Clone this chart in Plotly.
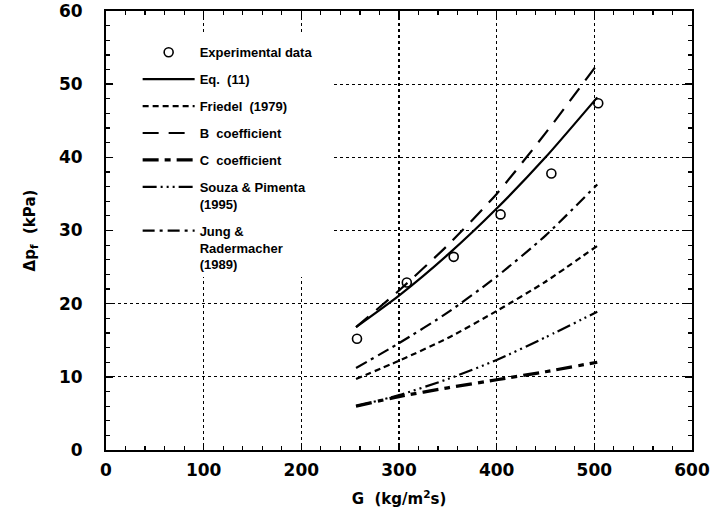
import plotly.graph_objects as go

# ---- data ----
G_exp = [257, 308, 356, 404, 456, 504]
dp_exp = [15.2, 22.9, 26.4, 32.2, 37.8, 47.4]

G_model = [256, 300, 350, 400, 450, 503]
eq11 = [16.8, 21.1, 26.7, 33.0, 40.0, 48.2]
friedel = [9.7, 12.2, 15.3, 19.0, 23.0, 27.9]
b_coef = [16.8, 21.8, 28.0, 35.0, 43.3, 52.7]
c_coef = [6.0, 7.3, 8.5, 9.6, 10.7, 12.0]
souza = [6.0, 7.5, 9.7, 12.3, 15.4, 18.9]
jung = [11.2, 14.6, 18.8, 23.7, 29.3, 36.3]

x_ticks = [0, 100, 200, 300, 400, 500, 600]
y_ticks = [0, 10, 20, 30, 40, 50, 60]

names = ["Experimental data", "Eq.  (11)", "Friedel  (1979)", "B  coefficient",
         "C  coefficient", "Souza & Pimenta<br>(1995)", "Jung &<br>Radermacher<br>(1989)"]

fig = go.Figure()

fig.add_trace(go.Scatter(
    x=G_exp, y=dp_exp, mode="markers", name=names[0], legendgroup="g0",
    marker=dict(symbol="circle-open", size=9, color="black", line=dict(width=1.6, color="black")),
))

series = [
    (eq11, names[1], "solid", 2.2),
    (friedel, names[2], "6px,4px", 2.2),
    (b_coef, names[3], "16px,10px", 2.2),
    (c_coef, names[4], "16px,6px,6px,6px", 3.2),
    (souza, names[5], "14px,4px,2px,4px,2px,4px,2px,4px", 2.2),
    (jung, names[6], "12px,5px,3px,5px", 2.2),
]
for i, (vals, nm, dash, w) in enumerate(series):
    fig.add_trace(go.Scatter(
        x=G_model, y=vals, mode="lines", name=nm, legendgroup=f"g{i+1}",
        line=dict(color="black", width=w, dash=dash, shape="spline", smoothing=0.6),
    ))

# white area behind the legend that hides the grid there
fig.add_shape(type="rect", xref="paper", yref="paper",
              x0=0.012, x1=0.386, y0=0.394, y1=0.95,
              fillcolor="white", line=dict(width=0), layer="above")

tick_font = dict(family="DejaVu Sans", size=17, color="black", weight="bold")
title_font = dict(family="DejaVu Sans", size=15, color="black", weight="bold")

fig.update_xaxes(
    range=[0, 600], tickvals=x_ticks, ticktext=[str(v) for v in x_ticks],
    showline=True, linecolor="black", linewidth=2, mirror="allticks",
    ticks="inside", ticklen=7, tickwidth=1.5, tickcolor="black",
    minor=dict(ticks="inside", dtick=20, ticklen=4, tickwidth=1.2, tickcolor="black", showgrid=False),
    showgrid=True, gridcolor="black", gridwidth=1.3, griddash="dot",
    zeroline=False, tickfont=tick_font, ticklabelstandoff=4, automargin=False,
    ticklabeloverflow="allow",
    title=dict(text="G  (kg/m<sup>2</sup>s)", font=title_font, standoff=14),
)
fig.update_yaxes(
    range=[0, 60], tickvals=y_ticks, ticktext=[str(v) for v in y_ticks],
    showline=True, linecolor="black", linewidth=2, mirror="allticks",
    ticks="inside", ticklen=7, tickwidth=1.5, tickcolor="black",
    minor=dict(ticks="inside", dtick=2, ticklen=4, tickwidth=1.2, tickcolor="black", showgrid=False),
    showgrid=True, gridcolor="black", gridwidth=1.3, griddash="dot",
    zeroline=False, tickfont=tick_font, ticklabelstandoff=18, automargin=False,
    ticklabeloverflow="allow",
    title=dict(text="Δp<sub>f</sub>  (kPa)", font=title_font, standoff=20),
)

fig.update_layout(
    width=718, height=513,
    margin=dict(l=106, r=26, t=11, b=63, autoexpand=False),
    paper_bgcolor="white", plot_bgcolor="white",
    showlegend=True,
    legend=dict(
        x=0.054, y=0.94, xanchor="left", yanchor="top",
        bgcolor="rgba(255,255,255,0)", borderwidth=0,
        font=dict(family="Liberation Sans", size=13, color="black", weight="bold"),
        tracegroupgap=7, valign="top", itemwidth=52,
    ),
)

fig.write_html("out.html",
               config={"displayModeBar": False, "staticPlot": True},
               post_script="document.body.style.margin='0';document.body.style.overflow='hidden';")
